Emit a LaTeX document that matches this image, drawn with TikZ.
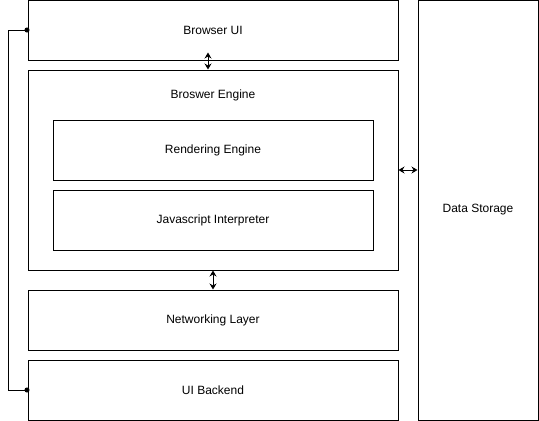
\documentclass[tikz,border=0pt]{standalone}
\usepackage{fontspec}
\setmainfont{Liberation Sans}
\usepackage{tikz}
\usetikzlibrary{arrows.meta,positioning,calc}

\begin{document}
\begin{tikzpicture}[x=1pt, y=-1pt, font=\fontsize{12}{14}\selectfont]
    \useasboundingbox (0,0) rectangle (539,421);
    \tikzset{
        box/.style={draw, line width=1pt, inner sep=0pt, minimum width=370pt, minimum height=60pt},
        inner box/.style={draw, line width=1pt, inner sep=0pt, minimum width=320pt, minimum height=60pt},
        link/.style={line width=1pt, {Stealth[length=6pt,width=7pt,inset=2pt]}-{Stealth[length=6pt,width=7pt,inset=2pt]}}
    }

    % Left column
    \node[box] (ui) at (213, 30) {Browser UI};
    \node[box, minimum height=200pt] (engine) at (213, 170) {};
    \node (enginelabel) at (213, 95) {Broswer Engine};
    \node[inner box] (render) at (213, 150) {Rendering Engine};
    \node[inner box] (js) at (213, 220) {Javascript Interpreter};
    \node[box] (net) at (213, 320) {Networking Layer};
    \node[box] (backend) at (213, 390) {UI Backend};

    % Right column
    \node[draw, line width=1pt, minimum width=120pt, minimum height=420pt] (storage) at (478, 210) {Data Storage};

    % Connectors
    \draw[link] ($(ui.south -| 208,0)+(0,-8)$) -- (engine.north -| 208,0);
    \draw[link] (engine.south) -- (net.north);
    \draw[link] (engine.east) -- (engine.east -| storage.west);
    \coordinate (top) at (8, 30);
    \coordinate (bottom) at (8, 390);
    \draw[line width=1pt, {Circle[length=5pt]}-{Circle[length=5pt]}, shorten <=-2pt, shorten >=-2pt] (ui.west) -- (top) -- (bottom) -- (backend.west);
\end{tikzpicture}
\end{document}
